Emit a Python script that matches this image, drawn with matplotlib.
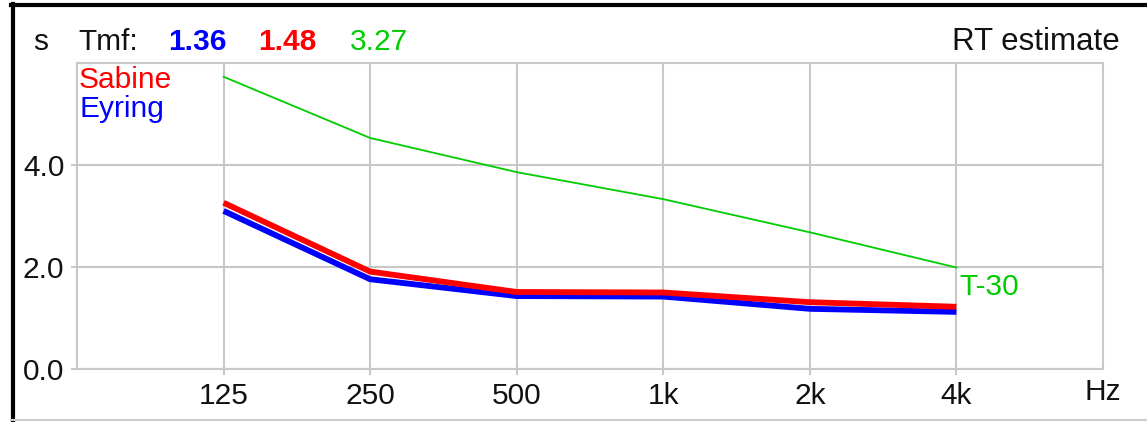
import matplotlib.pyplot as plt
import numpy as np
from matplotlib.lines import Line2D

plt.rcParams['font.family'] = ['Liberation Sans', 'DejaVu Sans']

# datos
freqs = [125, 250, 500, 1000, 2000, 4000]
freq_labels = ['125', '250', '500', '1k', '2k', '4k']
t30 = [5.73, 4.53, 3.86, 3.33, 2.68, 1.99]
sabine = [3.26, 1.91, 1.51, 1.50, 1.31, 1.22]
eyring = [3.10, 1.76, 1.43, 1.42, 1.18, 1.12]
y_ticks = [0.0, 2.0, 4.0]
tmf_vals = ['1.36', '1.48', '3.27']

W, H = 1147, 422
fig = plt.figure(figsize=(W/100, H/100), dpi=100)
fig.patch.set_facecolor('white')

# area del grafico en pixeles
x0, x1, ytop, ybot = 77, 1103, 63, 369
ax = fig.add_axes([x0/W, (H-ybot)/H, (x1-x0)/W, (ybot-ytop)/H])
ax.set_xscale('log', base=2)
ax.set_xlim(62.5, 8000)
ax.set_ylim(0, 6)

gris = '#c8c8c8'
ax.set_xticks(freqs)
ax.set_xticklabels(freq_labels)
ax.set_yticks(y_ticks)
ax.set_yticklabels(['%.1f' % v for v in y_ticks])
ax.xaxis.set_minor_locator(plt.NullLocator())
ax.tick_params(axis='both', colors=gris, length=4, width=1.5, labelsize=21.5,
               labelcolor='#111111', pad=5)
ax.grid(True, color=gris, linewidth=1.5)
for s in ax.spines.values():
    s.set_color(gris)
    s.set_linewidth(1.5)

ax.plot(freqs, t30, color='#00cc00', linewidth=1.3, zorder=3)
ax.plot(freqs, eyring, color='#0000ff', linewidth=4.2, zorder=3, solid_capstyle='butt')
ax.plot(freqs, sabine, color='#ff0000', linewidth=4.2, zorder=4, solid_capstyle='butt')

ax.annotate('T-30', (freqs[-1], t30[-1]), xytext=(2, -4), textcoords='offset points',
            color='#00cc00', fontsize=21.5, ha='left', va='top')
ax.text(0.002, 0.99, 'Sabine', transform=ax.transAxes, color='#ff0000',
        fontsize=21.5, ha='left', va='top')
ax.text(0.002, 0.895, 'Eyring', transform=ax.transAxes, color='#0000ff',
        fontsize=21.5, ha='left', va='top')
ax.text(x1/W, (H-392)/H, 'Hz', transform=fig.transFigure, fontsize=21.5,
        ha='center', va='center', color='#111111')

# textos de la cabecera
yh = (H-42)/H
fig.text(33/W, yh, 's', fontsize=21.5, ha='left', va='center', color='#111111')
fig.text(78/W, yh, 'Tmf:', fontsize=21.5, ha='left', va='center', color='#111111')
fig.text(168/W, yh, tmf_vals[0], fontsize=21.5, ha='left', va='center', color='#0000ff', fontweight='bold')
fig.text(258/W, yh, tmf_vals[1], fontsize=21.5, ha='left', va='center', color='#ff0000', fontweight='bold')
fig.text(350/W, yh, tmf_vals[2], fontsize=21.5, ha='left', va='center', color='#00cc00')
fig.text(1120/W, yh, 'RT estimate', fontsize=22.5, ha='right', va='center', color='#111111')

# marco exterior
fig.add_artist(Line2D([11/W, 1], [(H-4.5)/H]*2, transform=fig.transFigure, color='black', linewidth=3))
fig.add_artist(Line2D([12.5/W]*2, [0, (H-4)/H], transform=fig.transFigure, color='black', linewidth=3))
fig.add_artist(Line2D([11/W, 1], [(H-420)/H]*2, transform=fig.transFigure, color='#cccccc', linewidth=1.5))

fig.savefig('out.png', dpi=100)
